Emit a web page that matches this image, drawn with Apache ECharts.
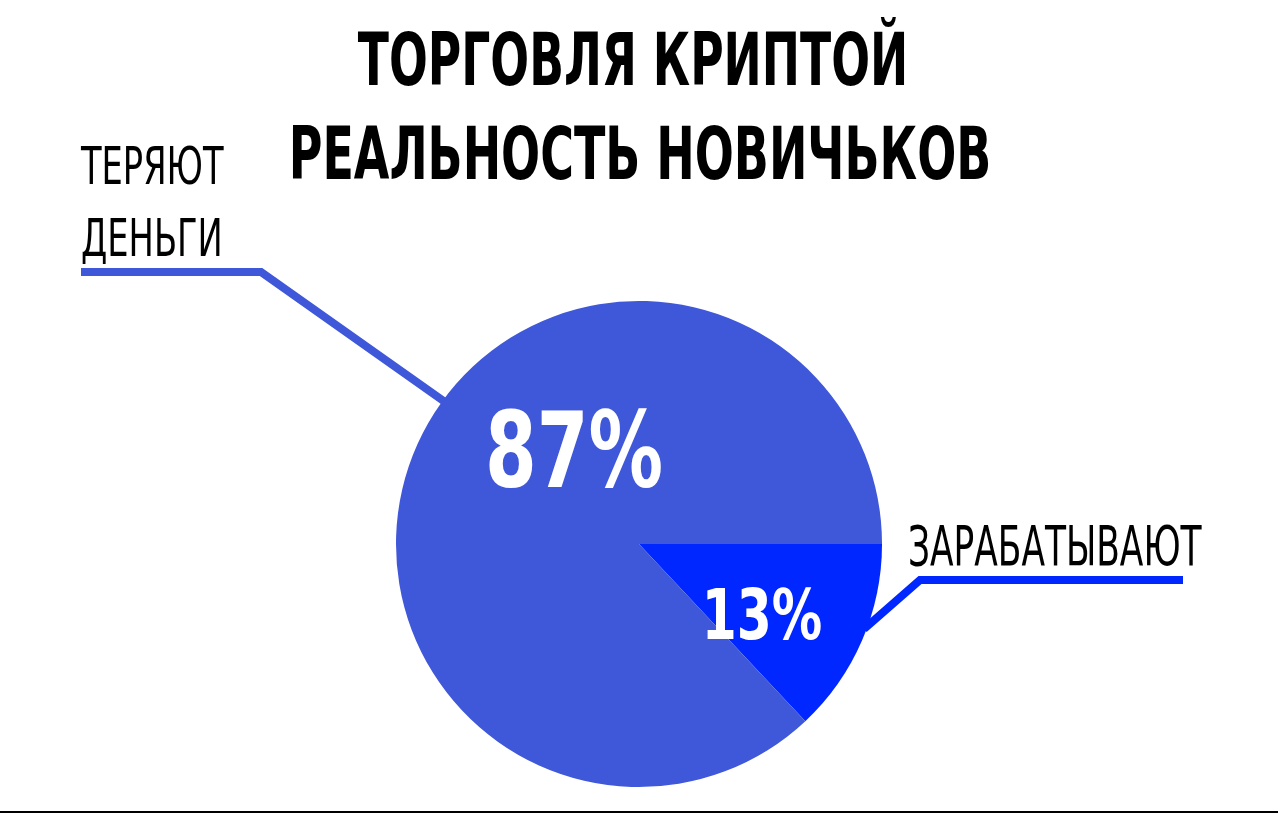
<!DOCTYPE html>
<html>
<head>
<meta charset="utf-8">
<script src="https://cdn.jsdelivr.net/npm/echarts@6/dist/echarts.min.js"></script>
<style>
html,body{margin:0;padding:0;background:#fff;}
#c{width:1278px;height:814px;}
</style>
</head>
<body>
<div id="c"></div>
<script>
const titleLines = ['ТОРГОВЛЯ КРИПТОЙ', 'РЕАЛЬНОСТЬ НОВИЧЬКОВ'];
const categories = ['ЗАРАБАТЫВАЮТ', 'ТЕРЯЮТ\nДЕНЬГИ'];
const values = [13, 87];
const colors = ['#0027ff', '#3f57d9'];

const FONT = '"DejaVu Sans Condensed", "DejaVu Sans", sans-serif';
const chart = echarts.init(document.getElementById('c'), null, {renderer: 'canvas'});

const data = categories.map((n, i) => ({name: n, value: values[i], itemStyle: {color: colors[i]}}));

// annotation placement (positions only)
const pctPos = [[762, 621, 70, 0.80], [574, 459, 106, 0.78]];
const leaderPts = [
  [[864, 629], [920, 580], [1183, 580]],
  [[445, 402], [261, 272], [81, 272]]
];

function txt(text, x, y, size, weight, color, sx, align) {
  return {
    type: 'text', x: x, y: y, scaleX: sx, silent: true, z: 100,
    style: {text: text, fill: color, font: weight + ' ' + size + 'px ' + FONT,
            textAlign: align || 'center', textVerticalAlign: 'middle'}
  };
}

const graphics = [
  {type: 'rect', shape: {x: 0, y: 811, width: 1278, height: 2}, style: {fill: '#000'}, silent: true},
  txt(titleLines[0], 633, 66, 73, 'bold', '#000', 0.695),
  txt(titleLines[1], 640, 160, 73, 'bold', '#000', 0.70)
];
values.forEach((v, i) => {
  const p = pctPos[i];
  graphics.push(txt(v + '%', p[0], p[1], p[2], 'bold', '#fff', p[3]));
  graphics.push({type: 'polyline', shape: {points: leaderPts[i]}, silent: true, z: 50,
                 style: {stroke: colors[i], lineWidth: 8, fill: null, lineJoin: 'miter'}});
});
// outer category labels
const lblLines0 = categories[0].split('\n');
graphics.push(txt(lblLines0[0], 908, 551, 55, 'normal', '#000', 0.695, 'left'));
const lblLines1 = categories[1].split('\n');
graphics.push(txt(lblLines1[0], 81, 170, 52, 'normal', '#000', 0.72, 'left'));
graphics.push(txt(lblLines1[1], 81, 242, 52, 'normal', '#000', 0.72, 'left'));

chart.setOption({
  animation: false,
  backgroundColor: '#fff',
  series: [
    {
      type: 'pie',
      center: [639, 544],
      radius: [0, 243],
      startAngle: 0,
      clockwise: true,
      data: data,
      label: {show: false},
      labelLine: {show: false},
      emphasis: {disabled: true}
    }
  ],
  graphic: graphics
});
</script>
</body>
</html>
